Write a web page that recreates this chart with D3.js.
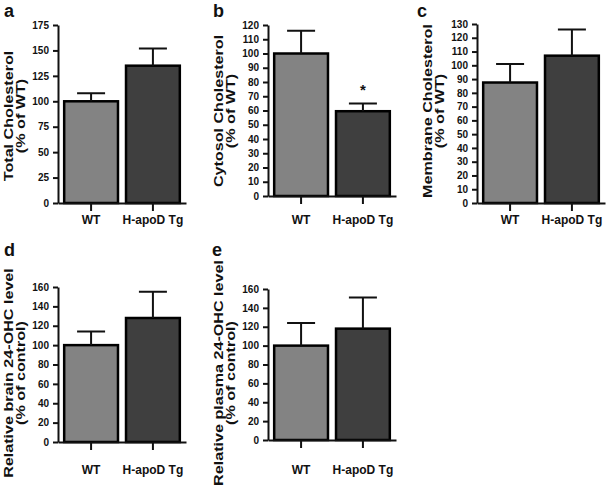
<!DOCTYPE html>
<html>
<head>
<meta charset="utf-8">
<script src="https://cdn.jsdelivr.net/npm/d3@7"></script>
<style>
  body { margin: 0; background: #fff; }
  svg text { font-family: "Liberation Sans", Arial, sans-serif; font-weight: bold; fill: #111; }
</style>
</head>
<body>
<div class="figure"></div>
<script>
// data
const groups = ["WT", "H-apoD Tg"];
const panelLetters = ["a", "b", "c", "d", "e"];
const yTitles = [
    ["Total Cholesterol", "(% of WT)"],
    ["Cytosol Cholesterol", "(% of WT)"],
    ["Membrane Cholesterol", "(% of WT)"],
    ["Relative brain 24-OHC level", "(% of control)"],
    ["Relative plasma 24-OHC level", "(% of control)"]
];
const yMax = [175, 120, 130, 160, 160];
const yStep = [25, 10, 10, 20, 20];
const means = [
    [100, 135],
    [100, 59.5],
    [87.5, 107],
    [100, 128],
    [100, 118]
];
const errors = [
    [8, 17],
    [16, 5.5],
    [13.5, 19],
    [14, 27],
    [24, 33]
];
const marks = [
    ["", ""],
    ["", "*"],
    ["", ""],
    ["", ""],
    ["", ""]
];

const barColors = ["#838383", "#3f3f3f"];

// where each panel sits on the page
const layout = [
    {axisX: 58,  top: 25,  bottom: 203, titleY: 116, letterX: 4,   letterY: 17,  labelY: 224},
    {axisX: 268, top: 25,  bottom: 196, titleY: 111, letterX: 213, letterY: 17,  labelY: 224},
    {axisX: 477, top: 24,  bottom: 203, titleY: 111, letterX: 417, letterY: 17,  labelY: 224},
    {axisX: 58,  top: 287, bottom: 442, titleY: 373, letterX: 4,   letterY: 256, labelY: 474},
    {axisX: 268, top: 289, bottom: 440, titleY: 373, letterX: 212, letterY: 256, labelY: 474}
];

const svg = d3.select(".figure")
    .append("svg")
    .attr("width", 609)
    .attr("height", 492);

function drawPanel(i){

    const L = layout[i];

    const g = svg.append("g");

    const x = d3.scaleBand()
        .domain(groups)
        .range([L.axisX, L.axisX + 128])
        .paddingInner(0.13)
        .paddingOuter(0.1);

    const y = d3.scaleLinear()
        .domain([0, yMax[i]])
        .range([L.bottom, L.top]);

    const rows = groups.map((grp, j) => ({
        group: grp,
        mean: means[i][j],
        err: errors[i][j],
        mark: marks[i][j],
        color: barColors[j]
    }));

    // bars
    g.selectAll("rect")
        .data(rows)
        .enter()
        .append("rect")
        .attr("x", d => x(d.group))
        .attr("y", d => y(d.mean))
        .attr("width", x.bandwidth())
        .attr("height", d => y(0) - y(d.mean))
        .attr("fill", d => d.color)
        .attr("stroke", "#000")
        .attr("stroke-width", 2.5);

    // error bars, upper half only
    const cap = 14;
    g.selectAll(".err")
        .data(rows)
        .enter()
        .append("path")
        .attr("class", "err")
        .attr("fill", "none")
        .attr("stroke", "#111")
        .attr("stroke-width", 2)
        .attr("d", d => {
            const cx = x(d.group) + x.bandwidth() / 2;
            return `M${cx},${y(d.mean)}V${y(d.mean + d.err)}M${cx - cap},${y(d.mean + d.err)}H${cx + cap}`;
        });

    g.selectAll(".mark")
        .data(rows.filter(d => d.mark))
        .enter()
        .append("text")
        .attr("class", "mark")
        .attr("x", d => x(d.group) + x.bandwidth() / 2)
        .attr("y", d => y(d.mean + d.err) - 8)
        .attr("text-anchor", "middle")
        .style("font-size", "15px")
        .text(d => d.mark);

    // axes
    const yAxis = g.append("g")
        .attr("transform", `translate(${L.axisX},0)`)
        .call(d3.axisLeft(y)
            .tickValues(d3.range(0, yMax[i] + 1, yStep[i]))
            .tickSize(5)
            .tickSizeOuter(0)
            .tickPadding(4));

    const xAxis = g.append("g")
        .attr("transform", `translate(0,${L.bottom})`)
        .call(d3.axisBottom(x)
            .tickSize(8)
            .tickSizeOuter(0)
            .tickPadding(L.labelY - L.bottom - 8 - 8.5));

    [yAxis, xAxis].forEach(a => {
        a.select(".domain").attr("stroke", "#111").attr("stroke-width", 2);
        a.selectAll(".tick line").attr("stroke", "#111").attr("stroke-width", 2);
    });

    yAxis.selectAll("text").style("font-size", "10px").attr("fill", "#111");
    xAxis.selectAll("text").style("font-size", "12px").attr("fill", "#111");

    // rotated two-line title, stretched along its length like the original
    const title = g.append("g")
        .attr("transform", `translate(${L.axisX - 45},${L.titleY}) rotate(-90)`);

    yTitles[i].forEach((t, k) => {
        const txt = title.append("text")
            .attr("x", 0)
            .attr("y", k * 12)
            .attr("text-anchor", "middle")
            .style("font-size", "13px")
            .text(t);
        const w = txt.node().getComputedTextLength();
        txt.attr("textLength", w * 1.24)
            .attr("lengthAdjust", "spacingAndGlyphs");
    });

    g.append("text")
        .attr("x", L.letterX)
        .attr("y", L.letterY)
        .style("font-size", "18px")
        .text(panelLetters[i]);

}

panelLetters.forEach((_, i) => drawPanel(i));
</script>
</body>
</html>
